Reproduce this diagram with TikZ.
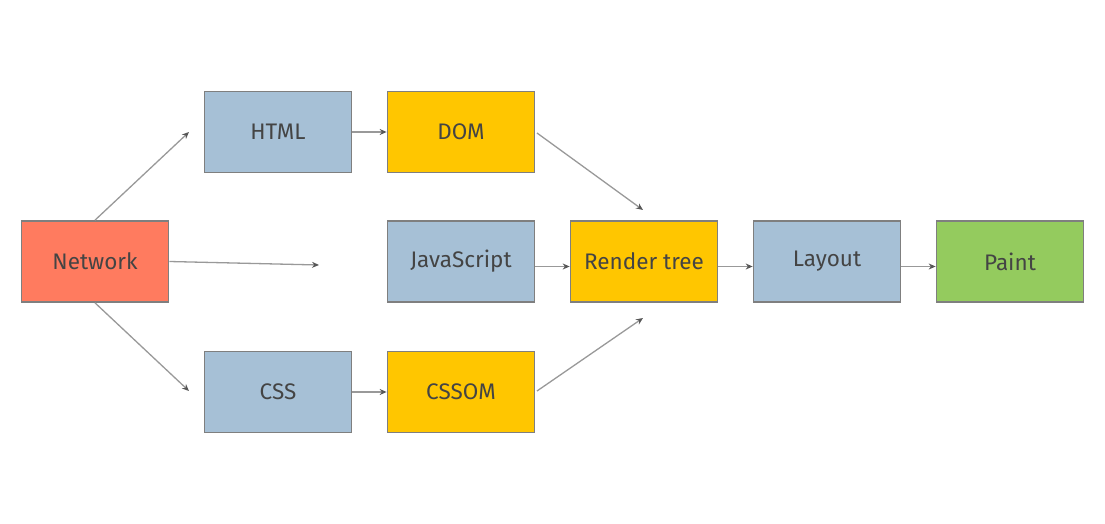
\documentclass[tikz,border=0pt]{standalone}
\usepackage{fontspec}
\setmainfont{Fira Sans}
\usetikzlibrary{arrows.meta}
\definecolor{boxline}{HTML}{7F7F7F}
\definecolor{netred}{HTML}{FF7B5F}
\definecolor{stepblue}{HTML}{A6C0D6}
\definecolor{stepyellow}{HTML}{FFC600}
\definecolor{stepgreen}{HTML}{94CB5E}
\definecolor{labeltext}{HTML}{444444}
\definecolor{flowline}{HTML}{999999}
\begin{document}
\begin{tikzpicture}[x=1pt,y=1pt,
  stagebox/.style={draw=boxline,line width=1.7pt,minimum width=147pt,minimum height=81pt,
    inner sep=0pt,text=labeltext,font=\fontsize{22.5}{26}\selectfont},
  flow/.style={draw=flowline,line width=1.3pt,
    -{Stealth[length=7pt,width=6pt,fill=labeltext!90,color=labeltext!90]}}]
\useasboundingbox (0,0) rectangle (1105,523);
% stages (y measured upward from the bottom edge)
\node[stagebox,fill=netred]     (net)    at (95,261.5)  {Network};
\node[stagebox,fill=stepblue]   (html)   at (278,391)  {HTML};
\node[stagebox,fill=stepyellow] (dom)    at (461,391)  {DOM};
\node[stagebox,fill=stepblue]   (js)     at (461,261.5) {JavaScript};
\node[stagebox,fill=stepyellow] (render) at (644,261.5) {Render tree};
\node[stagebox,fill=stepblue]   (layout) at (827,261.5) {Layout};
\node[stagebox,fill=stepgreen]  (paint)  at (1010,261.5) {Paint};
\node[stagebox,fill=stepblue]   (css)    at (278,131)  {CSS};
\node[stagebox,fill=stepyellow] (cssom)  at (461,131)  {CSSOM};
% loose arrow ends
\coordinate (toHtml)   at (189,391);
\coordinate (toJs)     at (319,258);
\coordinate (toCss)    at (189,132);
\coordinate (fromDom)  at (537,390);
\coordinate (intoTop)  at (643,313);
\coordinate (fromCss)  at (537,132);
\coordinate (intoBot)  at (643,205);
% connectors
\draw[flow] (net.north) -- (toHtml);
\draw[flow] (net.east) -- (toJs);
\draw[flow] (net.south) -- (toCss);
\draw[flow] (html.east) -- (dom.west);
\draw[flow] (css.east) -- (cssom.west);
\draw[flow] (fromDom) -- (intoTop);
\draw[flow] (fromCss) -- (intoBot);
\draw[flow] ([yshift=-5pt]js.east) -- ([yshift=-5pt]render.west);
\draw[flow] ([yshift=-5pt]render.east) -- ([yshift=-5pt]layout.west);
\draw[flow] ([yshift=-5pt]layout.east) -- ([yshift=-5pt]paint.west);
\end{tikzpicture}
\end{document}
